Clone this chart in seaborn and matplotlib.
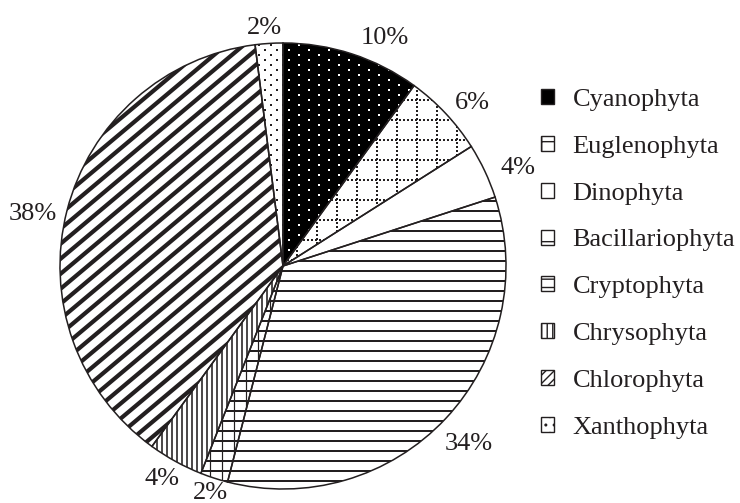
import numpy as np
import matplotlib
matplotlib.use("Agg")
import matplotlib.pyplot as plt
from matplotlib.collections import LineCollection
from matplotlib.patches import Patch
import seaborn as sns

# phytoplankton groups and their share of the total (%)
groups = ["Cyanophyta", "Euglenophyta", "Dinophyta", "Bacillariophyta",
          "Cryptophyta", "Chrysophyta", "Chlorophyta", "Xanthophyta"]
shares = [10, 6, 4, 34, 2, 4, 38, 2]
pct_labels = ["10%", "6%", "4%", "34%", "2%", "4%", "38%", "2%"]

sns.set_theme(style="white")
plt.rcParams["font.family"] = ["Liberation Serif", "DejaVu Serif"]
plt.rcParams["hatch.linewidth"] = 1.0

INK = "#231f20"
R = 223.0          # pie radius in pixels
PX = 1.0 / R       # one pixel in data units

fig = plt.figure(figsize=(7.4, 5.03), dpi=100)
ax = fig.add_axes([60 / 740, 14 / 503, 446 / 740, 446 / 503])

faces = ["black", "white", "white", "white", "white", "white", "white", "white"]
wedges, texts = ax.pie(shares, labels=pct_labels, colors=faces, startangle=90,
                       counterclock=False, labeldistance=1.08,
                       wedgeprops=dict(linewidth=0),
                       textprops=dict(fontsize=19, color=INK))


def stripes(wedge, angle, gap, lw, dashes=None):
    th = np.deg2rad(angle)
    d = np.array([np.cos(th), np.sin(th)])
    n = np.array([-np.sin(th), np.cos(th)])
    offs = np.arange(-1.5, 1.5, gap * PX)
    segs = [[o * n - 1.5 * d, o * n + 1.5 * d] for o in offs]
    lc = LineCollection(segs, colors=INK, linewidths=lw * 0.72, zorder=2)
    if dashes is not None:
        lc.set_linestyle((0, dashes))
    ax.add_collection(lc)
    lc.set_clip_path(wedge)


def dots(wedge, color, size, dx, dy):
    pts = []
    for j, y in enumerate(np.arange(-1.05, 1.05, dy * PX)):
        xs = np.arange(-1.05, 1.05, dx * PX) + (j % 2) * dx * PX / 2
        pts += [(x, y) for x in xs]
    pts = np.array(pts)
    sc = ax.scatter(pts[:, 0], pts[:, 1], s=size, c=color, marker="s",
                    linewidths=0, zorder=2)
    sc.set_clip_path(wedge)


w = dict(zip(groups, wedges))
dots(w["Cyanophyta"], "white", 3.2, 20, 5)
stripes(w["Euglenophyta"], 0, 20, 2, dashes=(1, 1))
stripes(w["Euglenophyta"], 90, 20, 2, dashes=(1, 1))
stripes(w["Bacillariophyta"], 0, 10, 2)
stripes(w["Cryptophyta"], 0, 10, 2)
stripes(w["Cryptophyta"], 90, 12, 1.2)
stripes(w["Chrysophyta"], 90, 5, 1.6)
stripes(w["Chlorophyta"], 40, 11.5, 4.2)
dots(w["Xanthophyta"], INK, 2.6, 12, 5)

# outlines on top of the fill patterns
ax.pie(shares, startangle=90, counterclock=False,
       wedgeprops=dict(fill=False, edgecolor=INK, linewidth=1.1, zorder=5))
ax.set_xlim(-1, 1)
ax.set_ylim(-1, 1)

# small shifts (px right, px down) so labels sit as in the original
nudges = [(3, 1), (-4, 2), (0, 5), (-14, 13), (19, -2), (13, 2), (7, 8), (14, 2)]
for t, (nx, ny) in zip(texts, nudges):
    x, y = t.get_position()
    t.set_position((x + nx * PX, y - ny * PX))

handle_style = [("black", ""), ("white", "+"), ("white", ""), ("white", "-"),
                ("white", "--"), ("white", "|||"), ("white", "////"), ("white", "..")]
handles = [Patch(facecolor=f, edgecolor=INK, hatch=h, linewidth=1.0)
           for f, h in handle_style]
fig.legend(handles, groups, loc="upper left", bbox_to_anchor=(541 / 740, 1 - 89 / 503),
           frameon=False, fontsize=19, handlelength=0.5, handleheight=0.5,
           handletextpad=0.7, labelspacing=0.94, borderaxespad=0, borderpad=0,
           labelcolor=INK)

fig.savefig("out.png", dpi=100)
